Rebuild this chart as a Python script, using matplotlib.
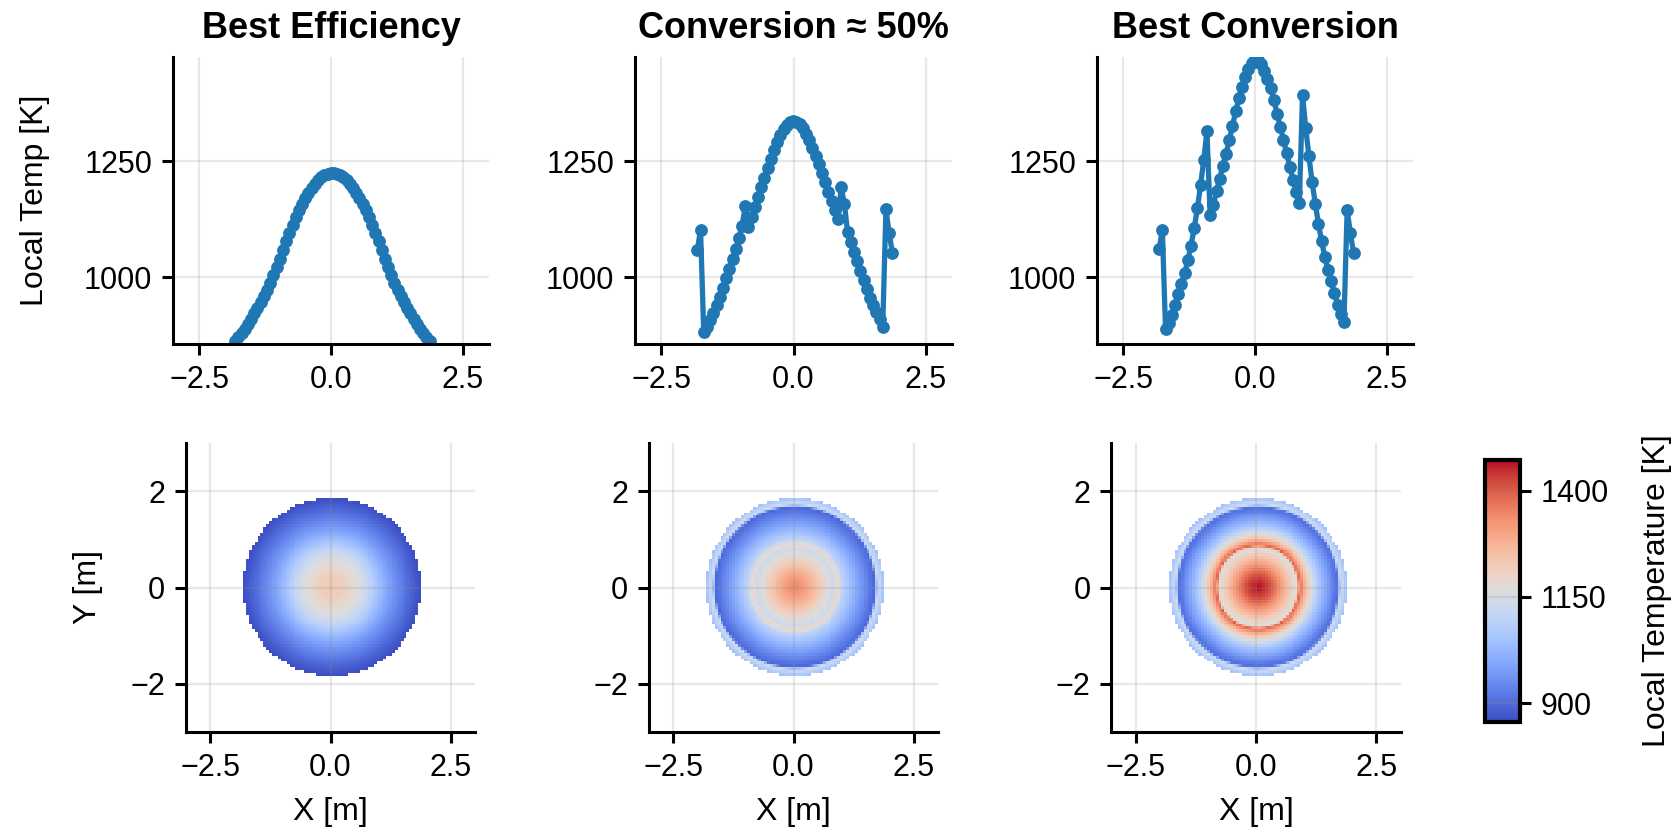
import numpy as np
import matplotlib
matplotlib.use("Agg")
import matplotlib.pyplot as plt

# ---------------- data ----------------
# sample positions along the y = 0 line [m]
x_pos = np.round(np.arange(62) * 0.0605 - 1.82, 4)

temp_best_eff = [862, 870, 879, 889, 899, 910, 922, 934, 946, 959, 973, 988, 1004, 1022, 1040,
                 1059, 1078, 1096, 1113, 1129, 1144, 1158, 1170, 1182, 1192, 1201, 1209, 1215,
                 1219, 1222, 1224,
                 1224, 1222, 1219, 1215, 1209, 1201, 1192, 1182, 1170, 1158, 1144, 1129, 1113,
                 1096, 1078, 1059, 1040, 1022, 1004, 988, 973, 959, 946, 934, 922, 910, 899,
                 889, 879, 870, 862]

temp_conv50 = [1058, 1102, 881, 893, 907, 922, 939, 957, 977, 998, 1018, 1038, 1060, 1084, 1110,
               1154, 1109, 1130, 1151, 1172, 1193, 1213, 1234, 1254, 1273, 1290, 1305, 1318,
               1327, 1333, 1336,
               1335, 1330, 1321, 1309, 1295, 1279, 1261, 1243, 1224, 1204, 1184, 1164, 1144,
               1125, 1193, 1158, 1097, 1076, 1055, 1034, 1013, 993, 974, 956, 939, 924, 909,
               893, 1146, 1095, 1053]

temp_best_conv = [1060, 1102, 889, 902, 918, 940, 963, 985, 1008, 1036, 1068, 1105, 1148, 1198,
                  1252, 1315, 1133, 1156, 1185, 1212, 1240, 1266, 1295, 1325, 1357, 1385, 1410,
                  1432, 1449, 1461, 1470,
                  1468, 1458, 1444, 1427, 1407, 1382, 1352, 1324, 1296, 1268, 1238, 1210, 1184,
                  1160, 1392, 1321, 1261, 1205, 1158, 1115, 1077, 1044, 1016, 991, 966, 941,
                  920, 904, 1145, 1095, 1053]

titles = ["Best Efficiency", "Conversion \u2248 50%", "Best Conversion"]
profiles = [temp_best_eff, temp_conv50, temp_best_conv]

temp_ticks = [1000, 1250]
x_ticks = [-2.5, 0.0, 2.5]
map_y_ticks = [-2, 0, 2]
cbar_ticks = [900, 1150, 1400]
temp_range = (856, 1472)

# ---------------- style ----------------
plt.rcParams.update({
    "font.family": ["Liberation Sans", "DejaVu Sans"],
    "font.size": 11,
    "axes.linewidth": 1.1,
    "xtick.major.width": 1.1,
    "ytick.major.width": 1.1,
    "xtick.major.size": 4,
    "ytick.major.size": 4,
    "xtick.labelsize": 11,
    "ytick.labelsize": 11,
    "axes.labelsize": 11.5,
})

W, H = 1678, 840
fig = plt.figure(figsize=(W / 200, H / 200), dpi=200)


def rect(l, t, r, b):
    return [l / W, 1 - b / H, (r - l) / W, (b - t) / H]


top_rects = [(173, 57, 489, 344), (635, 57, 952, 344), (1097, 57, 1413, 344)]
bot_rects = [(186, 443, 475, 732), (649, 443, 938, 732), (1111, 443, 1401, 732)]

grid_kw = dict(color="0.55", alpha=0.2, linewidth=0.8)

# heat-map grid
cell = 0.0605
center = 0.03
jj = np.arange(-31, 32)
GX, GY = np.meshgrid(center + jj * cell, jj * cell)
RR = np.hypot(GX - center, GY)
extent = [center - 31.5 * cell, center + 31.5 * cell, -31.5 * cell, 31.5 * cell]

im = None
for i, (title, prof) in enumerate(zip(titles, profiles)):
    prof = np.asarray(prof, dtype=float)
    # ---- top: profile along y = 0 ----
    ax = fig.add_axes(rect(*top_rects[i]))
    ax.plot(x_pos, prof, "-o", color="#1f77b4", linewidth=1.9, markersize=3.6)
    ax.set_xlim(-3, 3)
    ax.set_ylim(temp_range[0], temp_range[1] + 2)
    ax.set_xticks(x_ticks)
    ax.set_yticks(temp_ticks)
    ax.grid(True, **grid_kw)
    for s in ("top", "right"):
        ax.spines[s].set_visible(False)
    ax.set_title(title, fontweight="bold", fontsize=13, pad=7)
    if i == 0:
        ax.set_ylabel("Local Temp [K]", labelpad=12)

    # ---- bottom: 2D map built from the radial profile ----
    half = x_pos >= 0
    r_prof = np.concatenate([[0.0], x_pos[half] - center])
    t_prof = np.concatenate([[prof.max()], prof[half]])
    field = np.interp(RR, r_prof, t_prof)
    field = np.where(RR <= r_prof[-1] + 0.005, field, np.nan)

    bx = fig.add_axes(rect(*bot_rects[i]))
    im = bx.imshow(field, extent=extent, origin="lower", cmap="coolwarm",
                   vmin=temp_range[0], vmax=temp_range[1], interpolation="nearest")
    bx.set_xlim(-3, 3)
    bx.set_ylim(-3, 3)
    bx.set_xticks(x_ticks)
    bx.set_yticks(map_y_ticks)
    bx.grid(True, **grid_kw)
    for s in ("top", "right"):
        bx.spines[s].set_visible(False)
    bx.set_xlabel("X [m]", labelpad=5)
    if i == 0:
        bx.set_ylabel("Y [m]", labelpad=10)

cax = fig.add_axes(rect(1485, 460, 1520, 722))
cbar = fig.colorbar(im, cax=cax, ticks=cbar_ticks)
cbar.outline.set_linewidth(1.5)
cax.tick_params(length=4, width=1.1)
for t in cbar_ticks:
    cax.axhline(t, **grid_kw)
cbar.set_label("Local Temperature [K]", fontsize=11.5, labelpad=12)

fig.savefig("out.png", dpi=200)
